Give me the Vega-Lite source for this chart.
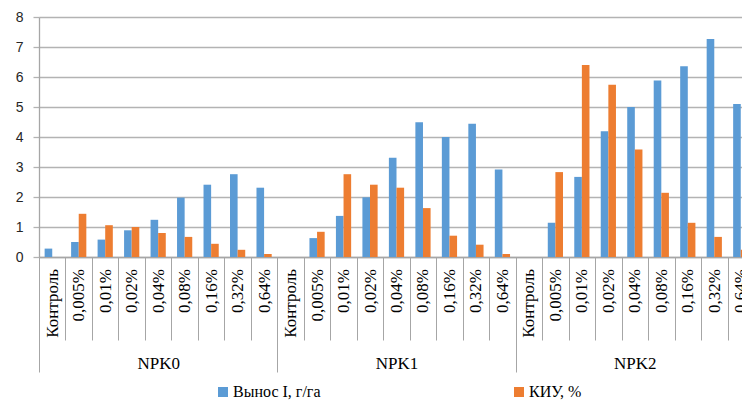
{
  "$schema": "https://vega.github.io/schema/vega-lite/v6.json",
  "autosize": {"type": "none"},
  "width": 703,
  "height": 240,
  "padding": {"left": 39, "top": 17, "right": 0, "bottom": 144},
  "background": "white",
  "config": {"view": {"stroke": null}, "font": "Liberation Serif"},
  "data": {"values": [
    {"group": "NPK0", "key": "NPK0|Контроль", "series": "Вынос I, г/га", "value": 0.28},
    {"group": "NPK0", "key": "NPK0|Контроль", "series": "КИУ, %", "value": 0},
    {"group": "NPK0", "key": "NPK0|0,005%", "series": "Вынос I, г/га", "value": 0.5},
    {"group": "NPK0", "key": "NPK0|0,005%", "series": "КИУ, %", "value": 1.44},
    {"group": "NPK0", "key": "NPK0|0,01%", "series": "Вынос I, г/га", "value": 0.58},
    {"group": "NPK0", "key": "NPK0|0,01%", "series": "КИУ, %", "value": 1.06},
    {"group": "NPK0", "key": "NPK0|0,02%", "series": "Вынос I, г/га", "value": 0.89},
    {"group": "NPK0", "key": "NPK0|0,02%", "series": "КИУ, %", "value": 1.0},
    {"group": "NPK0", "key": "NPK0|0,04%", "series": "Вынос I, г/га", "value": 1.24},
    {"group": "NPK0", "key": "NPK0|0,04%", "series": "КИУ, %", "value": 0.8},
    {"group": "NPK0", "key": "NPK0|0,08%", "series": "Вынос I, г/га", "value": 1.98},
    {"group": "NPK0", "key": "NPK0|0,08%", "series": "КИУ, %", "value": 0.67},
    {"group": "NPK0", "key": "NPK0|0,16%", "series": "Вынос I, г/га", "value": 2.41},
    {"group": "NPK0", "key": "NPK0|0,16%", "series": "КИУ, %", "value": 0.44},
    {"group": "NPK0", "key": "NPK0|0,32%", "series": "Вынос I, г/га", "value": 2.76},
    {"group": "NPK0", "key": "NPK0|0,32%", "series": "КИУ, %", "value": 0.24},
    {"group": "NPK0", "key": "NPK0|0,64%", "series": "Вынос I, г/га", "value": 2.31},
    {"group": "NPK0", "key": "NPK0|0,64%", "series": "КИУ, %", "value": 0.1},
    {"group": "NPK1", "key": "NPK1|Контроль", "series": "Вынос I, г/га", "value": 0},
    {"group": "NPK1", "key": "NPK1|Контроль", "series": "КИУ, %", "value": 0},
    {"group": "NPK1", "key": "NPK1|0,005%", "series": "Вынос I, г/га", "value": 0.63},
    {"group": "NPK1", "key": "NPK1|0,005%", "series": "КИУ, %", "value": 0.84},
    {"group": "NPK1", "key": "NPK1|0,01%", "series": "Вынос I, г/га", "value": 1.37},
    {"group": "NPK1", "key": "NPK1|0,01%", "series": "КИУ, %", "value": 2.76},
    {"group": "NPK1", "key": "NPK1|0,02%", "series": "Вынос I, г/га", "value": 1.99},
    {"group": "NPK1", "key": "NPK1|0,02%", "series": "КИУ, %", "value": 2.41},
    {"group": "NPK1", "key": "NPK1|0,04%", "series": "Вынос I, г/га", "value": 3.31},
    {"group": "NPK1", "key": "NPK1|0,04%", "series": "КИУ, %", "value": 2.31},
    {"group": "NPK1", "key": "NPK1|0,08%", "series": "Вынос I, г/га", "value": 4.49},
    {"group": "NPK1", "key": "NPK1|0,08%", "series": "КИУ, %", "value": 1.63},
    {"group": "NPK1", "key": "NPK1|0,16%", "series": "Вынос I, г/га", "value": 4.0},
    {"group": "NPK1", "key": "NPK1|0,16%", "series": "КИУ, %", "value": 0.71},
    {"group": "NPK1", "key": "NPK1|0,32%", "series": "Вынос I, г/га", "value": 4.44},
    {"group": "NPK1", "key": "NPK1|0,32%", "series": "КИУ, %", "value": 0.41},
    {"group": "NPK1", "key": "NPK1|0,64%", "series": "Вынос I, г/га", "value": 2.92},
    {"group": "NPK1", "key": "NPK1|0,64%", "series": "КИУ, %", "value": 0.1},
    {"group": "NPK2", "key": "NPK2|Контроль", "series": "Вынос I, г/га", "value": 0},
    {"group": "NPK2", "key": "NPK2|Контроль", "series": "КИУ, %", "value": 0},
    {"group": "NPK2", "key": "NPK2|0,005%", "series": "Вынос I, г/га", "value": 1.14},
    {"group": "NPK2", "key": "NPK2|0,005%", "series": "КИУ, %", "value": 2.83},
    {"group": "NPK2", "key": "NPK2|0,01%", "series": "Вынос I, г/га", "value": 2.67},
    {"group": "NPK2", "key": "NPK2|0,01%", "series": "КИУ, %", "value": 6.4},
    {"group": "NPK2", "key": "NPK2|0,02%", "series": "Вынос I, г/га", "value": 4.19},
    {"group": "NPK2", "key": "NPK2|0,02%", "series": "КИУ, %", "value": 5.74},
    {"group": "NPK2", "key": "NPK2|0,04%", "series": "Вынос I, г/га", "value": 5.0},
    {"group": "NPK2", "key": "NPK2|0,04%", "series": "КИУ, %", "value": 3.58},
    {"group": "NPK2", "key": "NPK2|0,08%", "series": "Вынос I, г/га", "value": 5.88},
    {"group": "NPK2", "key": "NPK2|0,08%", "series": "КИУ, %", "value": 2.14},
    {"group": "NPK2", "key": "NPK2|0,16%", "series": "Вынос I, г/га", "value": 6.36},
    {"group": "NPK2", "key": "NPK2|0,16%", "series": "КИУ, %", "value": 1.14},
    {"group": "NPK2", "key": "NPK2|0,32%", "series": "Вынос I, г/га", "value": 7.27},
    {"group": "NPK2", "key": "NPK2|0,32%", "series": "КИУ, %", "value": 0.67},
    {"group": "NPK2", "key": "NPK2|0,64%", "series": "Вынос I, г/га", "value": 5.1},
    {"group": "NPK2", "key": "NPK2|0,64%", "series": "КИУ, %", "value": 0.24}
  ]},
  "layer": [
    {
      "mark": {"type": "bar"},
      "encoding": {
        "x": {
          "field": "key", "type": "nominal", "sort": null,
          "scale": {"range": [0, 715], "paddingInner": 0, "paddingOuter": 0},
          "axis": {
            "title": null, "orient": "bottom", "labelAngle": -90,
            "labelAlign": "right", "labelBaseline": "middle",
            "labelFont": "Liberation Serif", "labelFontSize": 17, "labelColor": "#000000",
            "labelExpr": "split(datum.label, '|')[1]",
            "labelOverlap": false, "labelLimit": 0,
            "tickBand": "extent", "tickSize": 83, "tickColor": "#a6a6a6", "tickWidth": 1,
            "labelPadding": -71.5,
            "domainColor": "#a6a6a6", "domainWidth": 1.3, "grid": false
          }
        },
        "xOffset": {
          "field": "series", "type": "nominal", "sort": ["Вынос I, г/га", "КИУ, %"],
          "scale": {"paddingInner": 0, "paddingOuter": 0.74}
        },
        "y": {
          "field": "value", "type": "quantitative",
          "scale": {"domain": [0, 8], "nice": false},
          "axis": {
            "title": null, "values": [0, 1, 2, 3, 4, 5, 6, 7, 8],
            "grid": true, "gridColor": "#b3b3b3", "gridWidth": 1.3,
            "domainColor": "#a6a6a6", "domainWidth": 1.3,
            "tickColor": "#b3b3b3", "tickSize": 6, "tickWidth": 1.3,
            "labelFont": "Liberation Sans", "labelFontSize": 14, "labelColor": "#262626",
            "labelPadding": 10
          }
        },
        "color": {
          "field": "series", "type": "nominal",
          "scale": {"domain": ["Вынос I, г/га", "КИУ, %"], "range": ["#5B9BD5", "#ED7D31"]},
          "legend": {
            "title": null, "orient": "none", "legendX": 176, "legendY": 367,
            "direction": "horizontal", "symbolType": "square", "symbolSize": 100,
            "symbolStrokeWidth": 0, "labelFont": "Liberation Serif", "labelFontSize": 16,
            "labelColor": "#000000", "labelOffset": 2, "columnPadding": 190, "labelLimit": 0
          }
        }
      }
    },
    {
      "mark": {"type": "point", "opacity": 0},
      "encoding": {
        "x": {
          "field": "group", "type": "nominal", "sort": null,
          "scale": {"range": [0, 715], "paddingInner": 0, "paddingOuter": 0},
          "axis": {
            "title": null, "orient": "bottom", "labelAngle": 0,
            "labelFont": "Liberation Serif", "labelFontSize": 17, "labelColor": "#000000",
            "labelBaseline": "top", "labelAlign": "center",
            "tickBand": "extent", "tickSize": 115, "tickColor": "#a6a6a6", "tickWidth": 1,
            "labelPadding": -17, "domain": false, "grid": false
          }
        }
      }
    }
  ],
  "resolve": {"scale": {"x": "independent"}, "axis": {"x": "independent"}}
}
